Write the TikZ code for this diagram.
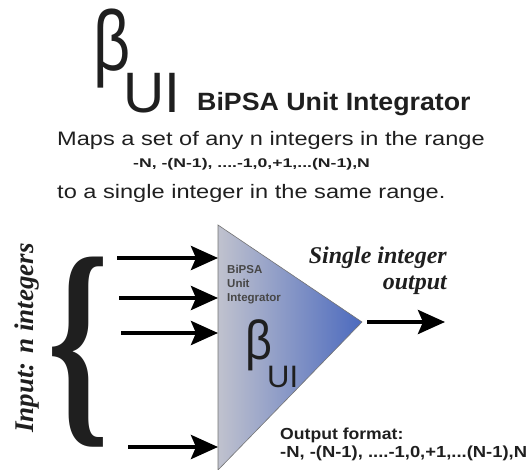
\documentclass[tikz,border=0pt]{standalone}
\usepackage{fontspec}
\setmainfont{Liberation Serif}
\setsansfont{Liberation Sans}
\usepackage{graphicx}
\usepackage{xcolor}
\usetikzlibrary{arrows.meta}

\definecolor{unitgrey}{RGB}{192,194,206}
\definecolor{unitblue}{RGB}{76,106,190}
\newcommand{\wide}[2]{\scalebox{#1}[1]{#2}}
\newcommand{\fsz}[2]{\fontsize{#1}{#2}\selectfont}

\begin{document}
\begin{tikzpicture}[
        x=1pt, y=-1pt,
        txt/.style={inner sep=0pt, text=black!88},
        head/.style={txt, font=\sffamily},
        ital/.style={txt, font=\bfseries\itshape},
        arr/.style={line width=4.2pt, -{Stealth[length=27pt, width=24pt, inset=5pt]}},
    ]
    \useasboundingbox (0,0) rectangle (530,470);

    % Heading
    \node[head, anchor=base west] (beta) at (93,71) {\wide{0.76}{\fsz{85}{85}β}};
    \node[head, anchor=base west] (ui) at (123,113) {\fsz{57}{57}UI};
    \node[head, anchor=base west] (title) at (197,111) {\wide{1.07}{\fsz{25}{30}\bfseries BiPSA Unit Integrator}};
    \node[head, anchor=base west] (maps) at (57,146) {\wide{1.21}{\fsz{19.5}{23}Maps a set of any n integers in the range}};
    \node[head, anchor=base west] (range) at (133,168) {\wide{1.4}{\fsz{12.6}{15}\bfseries -N, -(N-1), ....-1,0,+1,...(N-1),N}};
    \node[head, anchor=base west] (same) at (57,199) {\wide{1.21}{\fsz{19.5}{23}to a single integer in the same range.}};

    % Integrator block
    \coordinate (tl) at (218,225);
    \coordinate (tip) at (362,322);
    \coordinate (bl) at (218,470);
    \shade[left color=unitgrey, right color=unitblue, draw=black!55, line width=0.6pt] (tl) -- (tip) -- (bl) -- cycle;
    \node[txt, anchor=north west, align=left, text=black!72, font={\fsz{11.5}{14}\sffamily\bfseries}] (name) at (227,265) {BiPSA\\Unit\\Integrator};
    \node[head, anchor=base west] (ibeta) at (245,359) {\wide{0.85}{\fsz{55}{55}β}};
    \node[head, anchor=base west] (iui) at (267,387) {\fsz{31}{31}UI};

    % Inputs
    \node[txt] (brace) at (79,352) {\resizebox*{62pt}{190pt}{\bfseries\{}};
    \node[ital, rotate=90] (input) at (27,338) {\fsz{27}{27}Input: n integers};
    \foreach \y/\x [count=\i] in {258/117, 298/119, 333/121, 447/128}
        \coordinate (in\i) at (\x,\y);
    \foreach \i in {1,...,4}
        \draw[arr] (in\i) -- (in\i -| tl);

    % Output
    \coordinate (out) at (445,322);
    \draw[arr] ([xshift=5pt]tip) -- (out);
    \node[ital, anchor=north east, align=right, font={\fsz{24}{26}\bfseries\itshape}] (single) at (447,247) {Single integer\\output};
    \node[head, anchor=north west, align=left, font={\fsz{16}{18}\sffamily\bfseries}] (format) at (280,428) {\wide{1.1}{Output format:}\\\wide{1.15}{-N, -(N-1), ....-1,0,+1,...(N-1),N}};

\end{tikzpicture}
\end{document}
